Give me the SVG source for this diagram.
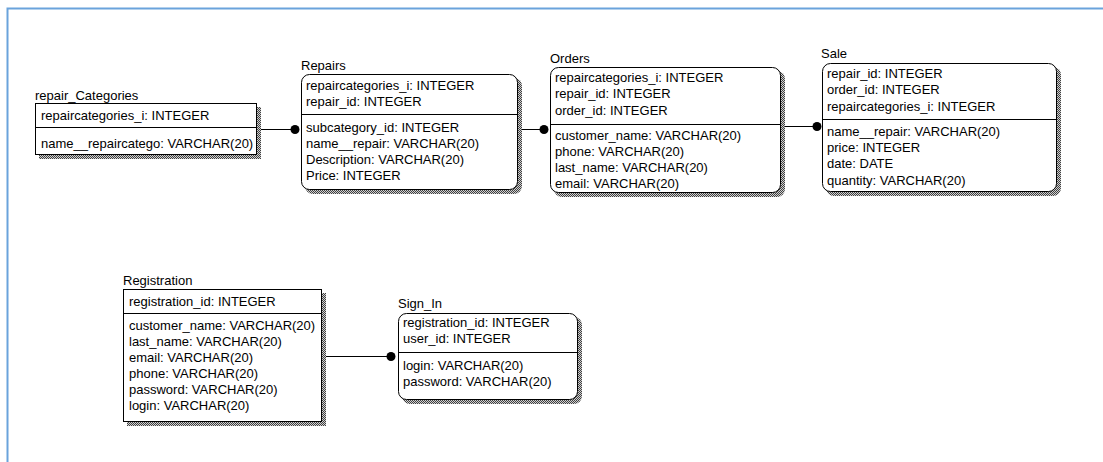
<svg xmlns="http://www.w3.org/2000/svg" width="1103" height="462" viewBox="0 0 1103 462">
  <style>
    text { font-family: "Liberation Sans", Arial, sans-serif; font-size: 13px; fill: #000; }
    .box { fill: #fff; stroke: #000; stroke-width: 1; }
    .shadow { fill: url(#dither); stroke: none; }
    .div { stroke: #000; stroke-width: 1; }
    .rel { stroke: #000; stroke-width: 1; fill: none; }
    .dot { fill: #000; }
    .frame { stroke: #6aa3dc; stroke-width: 2; fill: none; }
  </style>
  <defs>
    <!-- checkered grey used for the drop shadows -->
    <pattern id="dither" width="2" height="2" patternUnits="userSpaceOnUse">
      <rect width="2" height="2" fill="#d0d0d0"/>
      <rect width="1" height="1" fill="#404040"/>
      <rect x="1" y="1" width="1" height="1" fill="#404040"/>
    </pattern>
  </defs>
  <rect width="1103" height="462" fill="#fff"/>
  <path class="frame" d="M7.5 462 V8.5 H1103"/>

  <!-- relationships -->
  <g id="connectors">
    <line class="rel" x1="257" y1="129.5" x2="294" y2="129.5"/>
    <circle class="dot" cx="295" cy="129.5" r="4.5"/>
    <line class="rel" x1="518" y1="129.5" x2="543" y2="129.5"/>
    <circle class="dot" cx="544" cy="129.5" r="4.5"/>
    <line class="rel" x1="781" y1="126.5" x2="816" y2="126.5"/>
    <circle class="dot" cx="817" cy="126.5" r="4.5"/>
    <line class="rel" x1="322" y1="356.5" x2="390" y2="356.5"/>
    <circle class="dot" cx="391" cy="356.5" r="4.5"/>
  </g>

  <g id="repair_Categories">
    <text x="35" y="100">repair_Categories</text>
    <rect class="shadow" x="39" y="107" width="222" height="52"/>
    <rect class="box" x="35.5" y="103.5" width="221" height="51"/>
    <line class="div" x1="35.5" y1="127.5" x2="256.5" y2="127.5"/>
    <text x="41" y="120">repaircategories_i: INTEGER</text>
    <text x="41" y="148">name__repaircatego: VARCHAR(20)</text>
  </g>

  <g id="Repairs">
    <text x="301" y="70">Repairs</text>
    <rect class="shadow" x="305" y="78" width="217" height="116" rx="8"/>
    <rect class="box" x="301.5" y="74.5" width="216" height="115" rx="8"/>
    <line class="div" x1="301.5" y1="114.5" x2="517.5" y2="114.5"/>
    <text x="306" y="90">repaircategories_i: INTEGER</text>
    <text x="306" y="106">repair_id: INTEGER</text>
    <text x="306" y="132">subcategory_id: INTEGER</text>
    <text x="306" y="148">name__repair: VARCHAR(20)</text>
    <text x="306" y="164">Description: VARCHAR(20)</text>
    <text x="306" y="180">Price: INTEGER</text>
  </g>

  <g id="Orders">
    <text x="550" y="63">Orders</text>
    <rect class="shadow" x="554" y="71" width="231" height="126" rx="8"/>
    <rect class="box" x="550.5" y="67.5" width="230" height="125" rx="8"/>
    <line class="div" x1="550.5" y1="124.5" x2="780.5" y2="124.5"/>
    <text x="555" y="82">repaircategories_i: INTEGER</text>
    <text x="555" y="98">repair_id: INTEGER</text>
    <text x="555" y="115">order_id: INTEGER</text>
    <text x="555" y="140">customer_name: VARCHAR(20)</text>
    <text x="555" y="156">phone: VARCHAR(20)</text>
    <text x="555" y="172">last_name: VARCHAR(20)</text>
    <text x="555" y="188">email: VARCHAR(20)</text>
  </g>

  <g id="Sale">
    <text x="821" y="58">Sale</text>
    <rect class="shadow" x="826" y="67" width="235" height="129" rx="8"/>
    <rect class="box" x="822.5" y="63.5" width="234" height="128" rx="8"/>
    <line class="div" x1="822.5" y1="119.5" x2="1056.5" y2="119.5"/>
    <text x="827" y="78">repair_id: INTEGER</text>
    <text x="827" y="94">order_id: INTEGER</text>
    <text x="827" y="111">repaircategories_i: INTEGER</text>
    <text x="827" y="136">name__repair: VARCHAR(20)</text>
    <text x="827" y="152">price: INTEGER</text>
    <text x="827" y="168">date: DATE</text>
    <text x="827" y="185">quantity: VARCHAR(20)</text>
  </g>

  <g id="Registration">
    <text x="123" y="285">Registration</text>
    <rect class="shadow" x="127" y="293" width="199" height="133"/>
    <rect class="box" x="123.5" y="289.5" width="198" height="132"/>
    <line class="div" x1="123.5" y1="313.5" x2="321.5" y2="313.5"/>
    <text x="129" y="306">registration_id: INTEGER</text>
    <text x="129" y="330">customer_name: VARCHAR(20)</text>
    <text x="129" y="346">last_name: VARCHAR(20)</text>
    <text x="129" y="362">email: VARCHAR(20)</text>
    <text x="129" y="378">phone: VARCHAR(20)</text>
    <text x="129" y="394">password: VARCHAR(20)</text>
    <text x="129" y="410">login: VARCHAR(20)</text>
  </g>

  <g id="Sign_In">
    <text x="398" y="308">Sign_In</text>
    <rect class="shadow" x="402" y="317" width="180" height="87" rx="8"/>
    <rect class="box" x="398.5" y="313.5" width="179" height="86" rx="8"/>
    <line class="div" x1="398.5" y1="352.5" x2="577.5" y2="352.5"/>
    <text x="403" y="327">registration_id: INTEGER</text>
    <text x="403" y="343">user_id: INTEGER</text>
    <text x="403" y="370">login: VARCHAR(20)</text>
    <text x="403" y="386">password: VARCHAR(20)</text>
  </g>
</svg>
